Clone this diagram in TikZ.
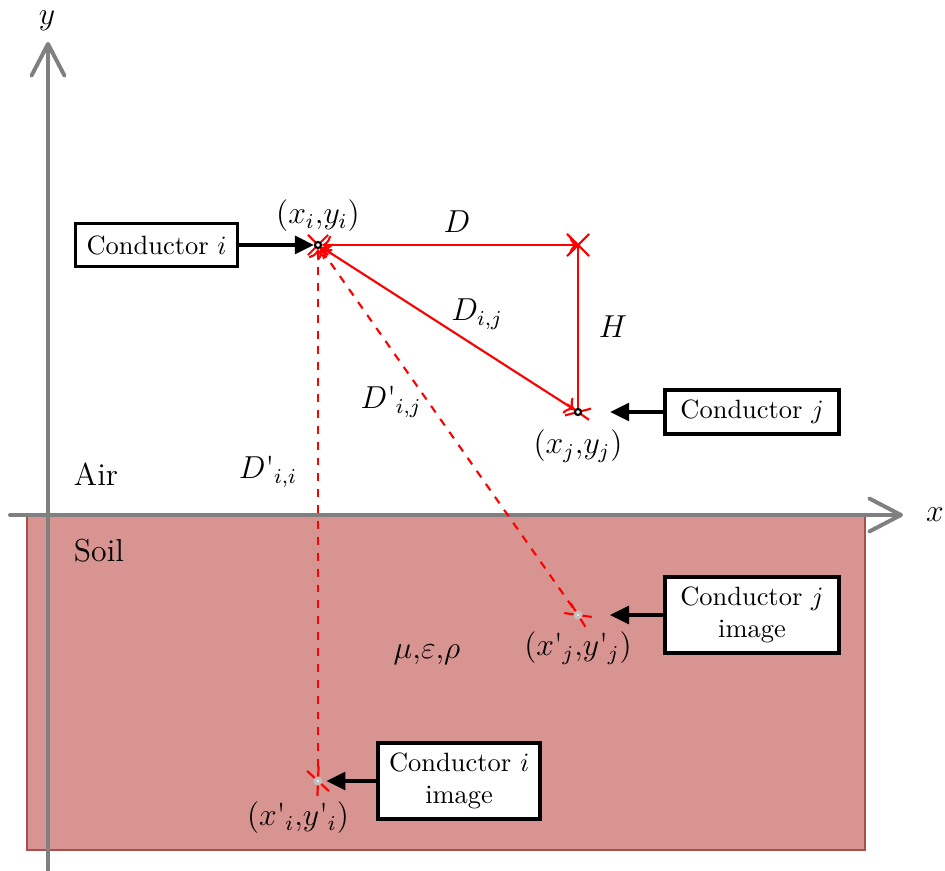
\documentclass[tikz,border=0pt]{standalone}
\usepackage{amsmath}
\usepackage{tikz}
\usetikzlibrary{arrows.meta, positioning, shapes.misc}
\usepackage{xcolor}
\definecolor{soil}{RGB}{216,148,144}
\definecolor{soilEdge}{RGB}{170,80,76}
\pgfdeclarelayer{bg}
\pgfdeclarelayer{mid}
\pgfsetlayers{bg,mid,main}
\newcommand{\qmark}{\text{\textquotesingle}}

\begin{document}
\begin{tikzpicture}[
  x=0.378pt, y=-0.378pt,
  axis/.style={gray, line width=1.5pt, line cap=round, -{Straight Barb[length=12pt, width=12.5pt, round]}},
  wire/.style={red, line width=0.8pt, >={To}},
  xmark/.style={cross out, draw=red, line width=0.8pt, inner sep=0pt},
  cond/.style={circle, draw=black, fill=white, line width=0.8pt, minimum size=2.3pt, inner sep=0pt},
  img/.style={circle, draw=gray!50, fill=white, line width=1.25pt, minimum size=2.1pt, inner sep=0pt},
  box/.style={draw, line width=1.35pt, fill=white, align=center, inner xsep=3.5pt, inner ysep=3.8pt, minimum height=16.2pt, minimum width=61.2pt},
  ptr/.style={-{Triangle[length=7.2pt, width=6.8pt]}, line width=1.2pt},
  lbl/.style={font=\large}
]
\useasboundingbox (0,0) rectangle (945,871);

% conductors and their images
\node[cond] (ci) at (318,245) {};
\node[cond] (cj) at (578,412) {};
\node[img] (ij) at (578,615) {};
\node[img] (ii) at (318,781) {};
\coordinate (cr) at (578,245);

% ground and axes
\begin{pgfonlayer}{bg}
  \fill[soil] (27,515) rectangle (865,850);
  \draw[soilEdge, line width=0.4pt] (27,515) -- (27,850) -- (865,850) -- (865,515);
  \draw[axis] (48,871) -- (48,42);
  \draw[axis] (10,515) -- (903,515);
\end{pgfonlayer}

% distances
\begin{pgfonlayer}{mid}
  \draw[wire, <->] (ci) -- (cr);
  \draw[wire] (cr) -- (cj);
  \draw[wire, <->] (ci) -- (cj);
  \draw[wire, <-, dashed] (ci) -- (ij);
  \draw[wire, <-, dashed] (ci) -- (ii);
  \node[xmark, minimum size=6.8pt] (xi) at (ci) {};
  \node[xmark, minimum size=7.6pt] (xc) at (cr) {};
  \node[xmark, minimum width=8.4pt, minimum height=3.5pt, rotate=-10.5] (xj) at (cj) {};
  \node[xmark, minimum width=8.7pt, minimum height=3.6pt, rotate=-33] (xij) at (ij) {};
  \node[xmark, minimum width=9.4pt, minimum height=3.9pt, rotate=-67.5] (xii) at (ii) {};
\end{pgfonlayer}

% boxes
\node[box, left=28.2pt of ci] (bi) {Conductor $i$};
\node[box, right=30.7pt of cj, minimum width=65.8pt] (bj) {Conductor $j$};
\node[box, right=30.5pt of ij, minimum width=65.8pt] (bij) {Conductor $j$\\image};
\node[box, right=20.4pt of ii] (bii) {Conductor $i$\\image};

\draw[ptr] (bi) -- (ci);
\draw[ptr, shorten >=10.6pt] (bj) -- (cj);
\draw[ptr, shorten >=10.4pt] (bij) -- (ij);
\draw[ptr, shorten >=1.5pt] (bii) -- (ii);

% labels
\node[lbl] (lci) at (318,216) {$(x_i{,}y_i)$};
\node[lbl] (lcj) at (578,446) {$(x_j{,}y_j)$};
\node[lbl] (lij) at (578,648) {$(x\qmark_j{,}y\qmark_j)$};
\node[lbl] (lii) at (298,818) {$(x\qmark_i{,}y\qmark_i)$};
\node[lbl] (lD) at (457,222) {$D$};
\node[lbl] (lH) at (613,327) {$H$};
\node[lbl] (lDij) at (477,314) {$D_{i,j}$};
\node[lbl] (lDpij) at (391,402) {$D\qmark_{i,j}$};
\node[lbl] (lDpii) at (268,472) {$D\qmark_{i,i}$};
\node[lbl] (air) at (96,474) {Air};
\node[lbl] (soilt) at (99,551) {Soil};
\node[lbl] (par) at (427,655) {$\mu{,}\varepsilon{,}\rho$};
\node[lbl] (ly) at (47,21) {$y$};
\node[lbl] (lx) at (935,515) {$x$};
\end{tikzpicture}
\end{document}
